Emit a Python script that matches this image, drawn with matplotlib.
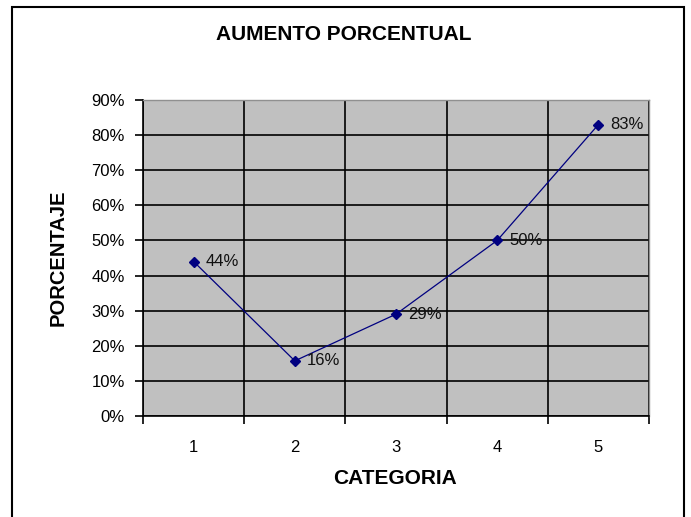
import matplotlib
matplotlib.use("Agg")
import matplotlib.pyplot as plt
from matplotlib.patches import Rectangle
from matplotlib.ticker import FixedLocator, PercentFormatter

categories = ["1", "2", "3", "4", "5"]
values = [0.44, 0.157, 0.29, 0.50, 0.83]
labels = ["44%", "16%", "29%", "50%", "83%"]
yticks = [0.0, 0.1, 0.2, 0.3, 0.4, 0.5, 0.6, 0.7, 0.8, 0.9]

plt.rcParams['font.family'] = ['Liberation Sans', 'DejaVu Sans']

fig = plt.figure(figsize=(6.91, 5.17), dpi=100)
fig.patch.set_facecolor('white')
W, H = 691, 517

# outer chart border
fig.patches.append(Rectangle((12 / W, -0.05), (684 - 12) / W, (517 - 7) / H + 0.05,
                             transform=fig.transFigure, fill=False,
                             edgecolor='black', linewidth=1.5))

ax = fig.add_axes([143 / W, (517 - 416) / H, (649 - 143) / W, (416 - 100) / H])
ax.set_facecolor('#C0C0C0')

x = list(range(1, len(categories) + 1))
ax.plot(x, values, color='#000080', linewidth=0.9, marker='D', markersize=5,
        markerfacecolor='#000080', markeredgecolor='#000080', zorder=3)
for xi, v, lab in zip(x, values, labels):
    ax.annotate(lab, (xi, v), xytext=(8.5, 0), textcoords='offset points',
                va='center', ha='left', fontsize=12, color='#111111', zorder=4)

ax.set_xlim(0.5, len(categories) + 0.5)
ax.set_ylim(0, 0.9)
ax.set_yticks(yticks)
ax.yaxis.set_major_formatter(PercentFormatter(1.0, decimals=0))
ax.set_xticks(x)
ax.set_xticklabels(categories)
ax.xaxis.set_minor_locator(FixedLocator([i + 0.5 for i in range(0, len(categories) + 1)]))

ax.tick_params(axis='x', which='major', length=0, pad=17, labelsize=12)
ax.tick_params(axis='x', which='minor', length=6, width=1.2, color='black', direction='out')
ax.tick_params(axis='y', which='major', length=6, width=1.2, color='black', direction='out',
               labelsize=12, pad=7)

ax.grid(True, axis='y', which='major', color='black', linewidth=1.2, zorder=1)
ax.grid(True, axis='x', which='minor', color='black', linewidth=1.2, zorder=1)
ax.set_axisbelow(True)

for side in ['top', 'right']:
    ax.spines[side].set_color('#909090')
    ax.spines[side].set_linewidth(1.0)
for side in ['left', 'bottom']:
    ax.spines[side].set_color('black')
    ax.spines[side].set_linewidth(1.2)

fig.text(344 / W, 1 - 34 / H, "AUMENTO PORCENTUAL", ha='center', va='center',
         fontsize=15, fontweight='bold')
fig.text(58 / W, 1 - 258 / H, "PORCENTAJE", ha='center', va='center', rotation=90,
         fontsize=14.5, fontweight='bold')
fig.text(395 / W, 1 - 479 / H, "CATEGORIA", ha='center', va='center',
         fontsize=15, fontweight='bold')

fig.savefig("out.png", dpi=100)
